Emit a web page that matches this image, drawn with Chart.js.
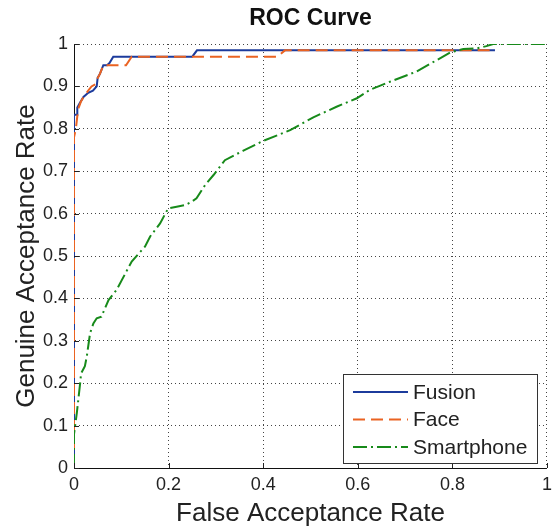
<!DOCTYPE html>
<html>
<head>
<meta charset="utf-8">
<script src="https://cdn.jsdelivr.net/npm/chart.js@4.4.1/dist/chart.umd.min.js"></script>
<style>
  html, body { margin: 0; padding: 0; background: #fff; }
  #wrap { width: 558px; height: 528px; }
</style>
</head>
<body>
<div id="wrap"><canvas id="roc" width="558" height="528"></canvas></div>
<script>
// values (FAR on x, GAR on y)
const fusionFar = [0, 0, 0.007, 0.007, 0.012, 0.02, 0.03, 0.04, 0.048, 0.05, 0.055, 0.062, 0.07, 0.075, 0.083, 0.25, 0.26, 0.89];
const fusionGar = [0, 0.833, 0.833, 0.85, 0.86, 0.875, 0.885, 0.89, 0.90, 0.92, 0.93, 0.95, 0.95, 0.955, 0.97, 0.97, 0.985, 0.985];

const faceFar = [0, 0, 0.004, 0.007, 0.01, 0.015, 0.02, 0.03, 0.037, 0.045, 0.048, 0.055, 0.062, 0.11, 0.122, 0.43, 0.446, 0.89];
const faceGar = [0, 0.78, 0.80, 0.83, 0.85, 0.865, 0.875, 0.89, 0.90, 0.905, 0.915, 0.93, 0.95, 0.95, 0.97, 0.97, 0.985, 0.985];

const phoneFar = [0, 0, 0.006, 0.01, 0.013, 0.015, 0.023, 0.027, 0.034, 0.041, 0.048, 0.058, 0.073, 0.09, 0.122, 0.15, 0.161, 0.182, 0.199, 0.217, 0.235, 0.249, 0.259, 0.277, 0.295, 0.319, 0.357, 0.397, 0.457, 0.506, 0.555, 0.598, 0.626, 0.668, 0.724, 0.767, 0.795, 0.823, 0.853, 0.872, 0.886, 1];
const phoneGar = [0, 0.08, 0.13, 0.17, 0.2, 0.223, 0.24, 0.263, 0.318, 0.341, 0.353, 0.357, 0.396, 0.42, 0.487, 0.522, 0.546, 0.577, 0.612, 0.616, 0.62, 0.628, 0.636, 0.667, 0.691, 0.726, 0.748, 0.77, 0.797, 0.827, 0.852, 0.872, 0.892, 0.911, 0.935, 0.962, 0.98, 0.988, 0.99, 0.995, 1, 1];

const seriesNames = ['Fusion', 'Face', 'Smartphone'];
const xTicks = [0, 0.2, 0.4, 0.6, 0.8, 1];
const yTicks = [0, 0.1, 0.2, 0.3, 0.4, 0.5, 0.6, 0.7, 0.8, 0.9, 1];
const chartTitle = 'ROC Curve';

const FONT = "'Liberation Sans', Arial, sans-serif";

function pts(xs, ys) {
  return xs.map(function(x, i) { return {x: x, y: ys[i]}; });
}

// title centred over the axes like matlab does
const axesTitle = {
  id: 'axesTitle',
  afterDraw(chart) {
    const ctx = chart.ctx, a = chart.chartArea;
    ctx.save();
    ctx.font = 'bold 23px ' + FONT;
    ctx.fillStyle = '#111';
    ctx.textAlign = 'center';
    ctx.textBaseline = 'middle';
    ctx.fillText(chartTitle, (a.left + a.right) / 2, 19);
    ctx.restore();
  }
};

// matlab style ticks pointing into the axes
const innerTicks = {
  id: 'innerTicks',
  afterDraw(chart) {
    const ctx = chart.ctx, a = chart.chartArea;
    const sx = chart.scales.x, sy = chart.scales.y;
    ctx.save();
    ctx.strokeStyle = '#222';
    ctx.lineWidth = 1;
    ctx.beginPath();
    xTicks.forEach(function(v) {
      const px = Math.round(sx.getPixelForValue(v)) + 0.5;
      ctx.moveTo(px, a.bottom);
      ctx.lineTo(px, a.bottom - 5);
    });
    yTicks.forEach(function(v) {
      const py = Math.round(sy.getPixelForValue(v)) + 0.5;
      ctx.moveTo(a.left, py);
      ctx.lineTo(a.left + 5, py);
    });
    ctx.stroke();
    ctx.restore();
  }
};

// legend box inside the plot, lower right
const boxLegend = {
  id: 'boxLegend',
  afterDraw(chart) {
    const ctx = chart.ctx, a = chart.chartArea;
    const w = 194, h = 89;
    const x0 = a.right - 10 - w, y0 = a.bottom - 5 - h;
    ctx.save();
    ctx.fillStyle = '#fff';
    ctx.fillRect(x0, y0, w, h);
    ctx.strokeStyle = '#333';
    ctx.lineWidth = 1;
    ctx.strokeRect(Math.round(x0) + 0.5, Math.round(y0) + 0.5, w, h);
    ctx.font = '21px ' + FONT;
    ctx.textBaseline = 'middle';
    chart.data.datasets.forEach(function(ds, i) {
      const cy = y0 + 18 + i * 27.5;
      ctx.strokeStyle = ds.borderColor;
      ctx.lineWidth = 2;
      ctx.setLineDash(ds.borderDash || []);
      ctx.beginPath();
      ctx.moveTo(x0 + 10, cy);
      ctx.lineTo(x0 + 65, cy);
      ctx.stroke();
      ctx.setLineDash([]);
      ctx.fillStyle = '#222';
      ctx.fillText(ds.label, x0 + 70, cy + 1);
    });
    ctx.restore();
  }
};

new Chart(document.getElementById('roc'), {
  type: 'scatter',
  data: {
    datasets: [
      {label: seriesNames[0], data: pts(fusionFar, fusionGar), borderColor: '#1c3b9c', borderWidth: 2, order: 3},
      {label: seriesNames[1], data: pts(faceFar, faceGar), borderColor: '#ea6322', borderWidth: 2, borderDash: [12, 6], order: 2},
      {label: seriesNames[2], data: pts(phoneFar, phoneGar), borderColor: '#178a1a', borderWidth: 2, borderDash: [14, 4, 2, 4], order: 1}
    ]
  },
  options: {
    responsive: false,
    animation: false,
    devicePixelRatio: 1,
    showLine: true,
    elements: {point: {radius: 0}, line: {tension: 0, fill: false}},
    layout: {padding: {top: 44, right: 11, bottom: 0, left: 0}},
    plugins: {
      legend: {display: false},
      tooltip: {enabled: false},
      title: {display: false}
    },
    scales: {
      x: {
        type: 'linear', min: 0, max: 1,
        afterFit(s) { s.height = 60; },
        afterBuildTicks(s) { s.ticks = xTicks.map(function(v) { return {value: v}; }); },
        ticks: {color: '#222', padding: 6, font: {family: FONT, size: 18}, callback: function(v) { return String(v); }},
        grid: {color: '#444', lineWidth: 1, drawTicks: false},
        border: {display: true, color: '#111', width: 1, dash: [1, 3]},
        title: {display: true, text: 'False Acceptance Rate', color: '#222', font: {family: FONT, size: 26, lineHeight: 1}, padding: {top: 0, bottom: 1}}
      },
      y: {
        type: 'linear', min: 0, max: 1,
        afterFit(s) { s.width = 74; },
        afterBuildTicks(s) { s.ticks = yTicks.map(function(v) { return {value: v}; }); },
        ticks: {color: '#222', padding: 6, font: {family: FONT, size: 18}, callback: function(v) { return String(v); }},
        grid: {color: '#444', lineWidth: 1, drawTicks: false},
        border: {display: true, color: '#111', width: 1, dash: [1, 3]},
        title: {display: true, text: 'Genuine Acceptance Rate', color: '#222', font: {family: FONT, size: 26, lineHeight: 1}, padding: {top: 14, bottom: 0}}
      }
    }
  },
  plugins: [axesTitle, innerTicks, boxLegend]
});
</script>
</body>
</html>
